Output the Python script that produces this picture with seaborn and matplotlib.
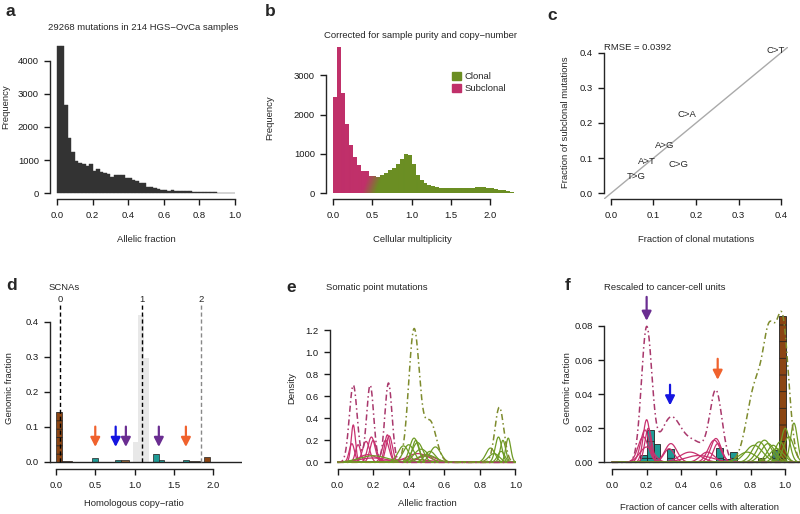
import numpy as np
import pandas as pd
import seaborn as sns
import matplotlib.pyplot as plt
from matplotlib.patches import Patch, PathPatch
from matplotlib.path import Path
from matplotlib.colors import to_rgb

# ---------------- data ----------------
# a: allelic fraction histogram, bins of 0.02 on [0, 1]
af_bin_start = [round(0.02 * i, 2) for i in range(50)]
af_counts = [4435, 4435, 2667, 1657, 1253, 980, 919, 879, 828, 879,
             667, 717, 646, 616, 566, 495, 545, 545, 545, 455,
             455, 394, 374, 313, 313, 192, 172, 141, 121, 101,
             91, 71, 81, 71, 61, 61, 50, 50, 40, 40,
             30, 30, 20, 20, 20, 10, 10, 10, 5, 3]

# b: cellular multiplicity histogram, bins of 0.05 on [0, 2.3]
mult_bin_start = [round(0.05 * i, 2) for i in range(46)]
mult_counts = [2450, 3720, 2560, 1770, 1220, 920, 710, 570, 570, 450,
               430, 410, 460, 520, 590, 640, 750, 870, 1000, 975,
               740, 460, 330, 260, 220, 185, 160, 140, 125, 140,
               140, 140, 135, 130, 140, 140, 150, 160, 145, 140,
               120, 100, 85, 70, 50, 20]

# c: mutation spectra, clonal vs subclonal
mut_types = ['C>T', 'C>A', 'A>G', 'A>T', 'C>G', 'T>G']
clonal_frac = [0.386, 0.178, 0.127, 0.085, 0.159, 0.059]
subclonal_frac = [0.407, 0.223, 0.137, 0.092, 0.083, 0.049]

# d: SCNA copy-ratio histogram
d_grey_left = [0.985, 1.05, 1.115]
d_grey_width = [0.065, 0.065, 0.065]
d_grey_height = [0.055, 0.42, 0.297]
d_bar_left = [0.0, 0.07, 0.455, 0.75, 0.83, 1.23, 1.31, 1.62, 1.69, 1.89]
d_bar_width = [0.07, 0.13, 0.075, 0.08, 0.1, 0.08, 0.06, 0.07, 0.15, 0.07]
d_bar_height = [0.143, 0.003, 0.01, 0.004, 0.005, 0.021, 0.006, 0.006, 0.002, 0.012]
d_bar_kind = ['clonal', 'clonal', 'sub', 'sub', 'mid', 'sub', 'sub', 'sub', 'mid', 'clonal']
d_arrow_x = [0.5, 0.76, 0.89, 1.31, 1.655]
d_arrow_kind = ['orange', 'blue', 'purple', 'purple', 'orange']
d_top_pos = [0.05, 1.094, 1.85]
d_top_labels = ['0', '1', '2']

# e: allelic-fraction densities (peak centre, width, height per curve)
e_sub_center = [0.088, 0.08, 0.115, 0.19, 0.16, 0.2, 0.28, 0.29, 0.27, 0.17, 0.2, 0.45, 0.4, 0.5]
e_sub_sd = [0.012, 0.015, 0.015, 0.02, 0.02, 0.018, 0.016, 0.018, 0.02, 0.05, 0.08, 0.06, 0.1, 0.05]
e_sub_height = [0.34, 0.17, 0.16, 0.23, 0.19, 0.2, 0.25, 0.24, 0.2, 0.07, 0.04, 0.08, 0.03, 0.06]
e_cl_center = [0.43, 0.44, 0.40, 0.37, 0.45, 0.47, 0.55, 0.52, 0.5, 0.2,
               0.86, 0.905, 0.93, 0.96, 0.92, 0.88]
e_cl_sd = [0.025, 0.02, 0.03, 0.03, 0.03, 0.04, 0.03, 0.03, 0.05, 0.08,
           0.025, 0.018, 0.015, 0.014, 0.02, 0.03]
e_cl_height = [0.22, 0.2, 0.16, 0.15, 0.18, 0.12, 0.14, 0.10, 0.07, 0.06,
               0.13, 0.23, 0.20, 0.22, 0.1, 0.08]
e_subsum_center = [0.088, 0.183, 0.286]
e_subsum_sd = [0.022, 0.02, 0.02]
e_subsum_height = [0.7, 0.7, 0.72]
e_clsum_center = [0.43, 0.52, 0.91]
e_clsum_sd = [0.03, 0.035, 0.025]
e_clsum_height = [1.2, 0.37, 0.5]

# f: cancer-cell fraction (peak centre, width, height per curve)
f_sub_center = [0.2, 0.19, 0.18, 0.21, 0.2, 0.34, 0.33, 0.45, 0.6, 0.59, 0.61, 0.55, 0.5]
f_sub_sd = [0.02, 0.025, 0.03, 0.02, 0.04, 0.035, 0.03, 0.06, 0.03, 0.035, 0.025, 0.04, 0.08]
f_sub_height = [0.025, 0.019, 0.015, 0.02, 0.009, 0.011, 0.008, 0.006, 0.014, 0.013, 0.011, 0.006, 0.004]
f_cl_center = [0.85, 0.88, 0.9, 0.82, 0.93, 0.78, 0.97, 1.0, 1.05, 1.02, 0.95]
f_cl_sd = [0.04, 0.04, 0.04, 0.05, 0.035, 0.05, 0.03, 0.025, 0.02, 0.03, 0.04]
f_cl_height = [0.012, 0.013, 0.011, 0.01, 0.01, 0.006, 0.012, 0.02, 0.023, 0.015, 0.008]
f_subsum_center = [0.2, 0.34, 0.48, 0.6]
f_subsum_sd = [0.03, 0.06, 0.06, 0.035]
f_subsum_height = [0.078, 0.026, 0.011, 0.041]
f_clsum_center = [0.83, 0.91, 0.985]
f_clsum_sd = [0.05, 0.035, 0.035]
f_clsum_height = [0.045, 0.062, 0.08]
f_bar_left = [0.16, 0.20, 0.24, 0.32, 0.48, 0.60, 0.64, 0.68, 0.84, 0.925, 0.965]
f_bar_height = [0.0045, 0.019, 0.0107, 0.008, 0.001, 0.0084, 0.002, 0.006, 0.0027, 0.007, 0.086]
f_bar_kind = ['sub', 'sub', 'sub', 'sub', 'sub', 'sub', 'sub', 'sub', 'mid', 'mixed', 'clonal']
f_arrow_x = [0.2, 0.335, 0.61]
f_arrow_top = [0.097, 0.0455, 0.0607]
f_arrow_tip = [0.083, 0.0334, 0.0484]
f_arrow_kind = ['purple', 'blue', 'orange']

# ---------------- style ----------------
sns.set_style('ticks')
plt.rcParams['font.family'] = ['Liberation Sans', 'DejaVu Sans']
plt.rcParams['hatch.linewidth'] = 0.6
plt.rcParams['axes.linewidth'] = 1.0

FS = 6.8
PINK = '#C0306A'
GREEN = '#6B8E23'
PINK_LINE = '#C8316F'
GREEN_LINE = '#6E9B25'
PINK_DASH = '#A9386C'
OLIVE_DASH = '#7E8B2D'
DASHDOT = (0, (4, 2, 1, 2))
arrow_colors = {'orange': '#F0622D', 'blue': '#1515E0', 'purple': '#6A2D91'}
bar_colors = {'clonal': '#8B4513', 'sub': '#1E9A95', 'mid': '#9C6A3A', 'mixed': '#3F7F6E'}

W, H = 800, 514
fig = plt.figure(figsize=(W / 100, H / 100), dpi=100)


def px_axes(left, top, right, bottom):
    return fig.add_axes([left / W, 1 - bottom / H, (right - left) / W, (bottom - top) / H])


def ftext(x, y, s, **kw):
    kw.setdefault('fontsize', FS)
    fig.text(x / W, 1 - y / H, s, **kw)


def letter(x, y, s):
    fig.text(x / W, 1 - y / H, s, fontsize=12.5, fontweight='bold', va='center')


def r_axes(ax, xticks, yticks, xfmt, yfmt):
    sns.despine(ax=ax)
    ax.set_xticks(xticks)
    ax.set_yticks(yticks)
    ax.set_xticklabels([xfmt.format(v) for v in xticks])
    ax.set_yticklabels([yfmt.format(v) for v in yticks])
    ax.spines['bottom'].set_bounds(xticks[0], xticks[-1])
    ax.spines['left'].set_bounds(yticks[0], yticks[-1])
    ax.tick_params(length=4.5, width=1, labelsize=FS, colors='#1a1a1a')
    ax.tick_params(axis='x', pad=4)
    ax.tick_params(axis='y', pad=3.5)


def px_labels(ax, xl, xpos, yl, ypos):
    ax.set_xlabel(xl, fontsize=FS)
    ax.set_ylabel(yl, fontsize=FS)
    ax.xaxis.set_label_coords(xpos[0] / W, 1 - xpos[1] / H, transform=fig.transFigure)
    ax.yaxis.set_label_coords(ypos[0] / W, 1 - ypos[1] / H, transform=fig.transFigure)
    ax.xaxis.label.set_va('center')
    ax.yaxis.label.set_va('center')


def bump_frame(xgrid, centers, sds, heights):
    parts = []
    for i, (c, s, h) in enumerate(zip(centers, sds, heights)):
        y = h * np.exp(-0.5 * ((xgrid - c) / s) ** 2)
        parts.append(pd.DataFrame({'x': xgrid, 'y': y, 'curve': i}))
    return pd.concat(parts, ignore_index=True)


def mixture_frame(xgrid, centers, sds, heights):
    y = np.zeros_like(xgrid)
    for c, s, h in zip(centers, sds, heights):
        y = y + h * np.exp(-0.5 * ((xgrid - c) / s) ** 2)
    return pd.DataFrame({'x': xgrid, 'y': y})


def down_arrow(ax, x, y0, y1, color):
    ax.annotate('', xy=(x, y1), xytext=(x, y0), annotation_clip=False,
                arrowprops=dict(arrowstyle='-|>,head_length=0.55,head_width=0.28',
                                color=color, lw=1.6, shrinkA=0, shrinkB=0))


# ---------------- a ----------------
ax = px_axes(50, 40, 242, 199)
df_af = pd.DataFrame({'af': np.array(af_bin_start) + 0.01, 'n': af_counts})
sns.histplot(data=df_af, x='af', weights='n', binwidth=0.02, binrange=(0, 1), color='#333333',
             alpha=1, edgecolor='#333333', linewidth=0.3, ax=ax)
ax.set_xlim(-0.04, 1.04)
ax.set_ylim(-178, 4628)
r_axes(ax, [0, 0.2, 0.4, 0.6, 0.8, 1.0], [0, 1000, 2000, 3000, 4000], '{:.1f}', '{:.0f}')
px_labels(ax, 'Allelic fraction', (146, 239), 'Frequency', (6, 107))
ftext(143, 27, '29268 mutations in 214 HGS\u2212OvCa samples', ha='center', va='center')
letter(5, 12, 'a')

# ---------------- b ----------------
ax = px_axes(326, 42, 521, 199)
df_mult = pd.DataFrame({'m': np.array(mult_bin_start) + 0.025, 'n': mult_counts})
sns.histplot(data=df_mult, x='m', weights='n', binwidth=0.05, binrange=(0, 2.3), color=PINK,
             alpha=1, linewidth=0, ax=ax)
bars = list(ax.patches)
paths = [p.get_path().transformed(p.get_patch_transform()) for p in bars]
clip = PathPatch(Path.make_compound_path(*paths), transform=ax.transData,
                 facecolor='none', edgecolor='none')
ax.add_patch(clip)
gx, gy = np.meshgrid(np.linspace(0, 2.3, 300), np.linspace(0, 3800, 300))
t = np.clip((gx - 0.40) / 0.18 - gy / 1000 + 0.2, 0, 1)[..., None]
grad = np.array(to_rgb(PINK)) * (1 - t) + np.array(to_rgb(GREEN)) * t
im = ax.imshow(grad, extent=(0, 2.3, 0, 3800), origin='lower', aspect='auto',
               interpolation='bilinear', zorder=2)
im.set_clip_path(clip)
ax.set_xlim(-0.092, 2.392)
ax.set_ylim(-148, 3848)
r_axes(ax, [0, 0.5, 1.0, 1.5, 2.0], [0, 1000, 2000, 3000], '{:.1f}', '{:.0f}')
px_labels(ax, 'Cellular multiplicity', (412, 239), 'Frequency', (270, 118))
ax.legend(handles=[Patch(color=GREEN, label='Clonal'), Patch(color=PINK, label='Subclonal')],
          loc='upper left', bbox_to_anchor=(447 / W, 1 - 67 / H), bbox_transform=fig.transFigure,
          frameon=False, fontsize=FS, handlelength=1.0, handleheight=1.0,
          handletextpad=0.35, labelspacing=0.25, borderpad=0)
ftext(420, 35, 'Corrected for sample purity and copy\u2212number', ha='center', va='center')
letter(265, 12, 'b')

# ---------------- c ----------------
ax = px_axes(604, 47, 788, 199)
ax.set_xlim(-0.016, 0.416)
ax.set_ylim(-0.016, 0.416)
ax.axline((0, 0), slope=1, color='#aaaaaa', lw=1)
for name, xv, yv in zip(mut_types, clonal_frac, subclonal_frac):
    ax.text(xv, yv, name, fontsize=FS, ha='center', va='center')
r_axes(ax, [0, 0.1, 0.2, 0.3, 0.4], [0, 0.1, 0.2, 0.3, 0.4], '{:.1f}', '{:.1f}')
px_labels(ax, 'Fraction of clonal mutations', (696, 239),
          'Fraction of subclonal mutations', (565, 122))
ftext(604, 47, 'RMSE = 0.0392', va='center')
letter(547, 15, 'c')

# ---------------- d ----------------
ax = px_axes(50, 304, 242, 469)
ax.set_xlim(-0.077, 2.37)
ax.set_ylim(-0.021, 0.45)
ax.bar(d_grey_left, d_grey_height, width=d_grey_width, align='edge', color='#e8e8e8', lw=0)
ax.bar(d_bar_left, d_bar_height, width=d_bar_width, align='edge',
       color=[bar_colors[k] for k in d_bar_kind], edgecolor='#222222', lw=0.5, hatch='--')
ax.axhline(0, color='#222222', lw=1)
for xv, lab, col in zip(d_top_pos, d_top_labels, ['black', 'black', '#888888']):
    ax.vlines(xv, 0, 0.448, colors=col, linestyles=(0, (3, 2)), lw=1, clip_on=False)
    ax.text(xv, 0.462, lab, fontsize=FS, ha='center', va='center', clip_on=False)
for xv, k in zip(d_arrow_x, d_arrow_kind):
    down_arrow(ax, xv, 0.1, 0.042, arrow_colors[k])
r_axes(ax, [0, 0.5, 1.0, 1.5, 2.0], [0, 0.1, 0.2, 0.3, 0.4], '{:.1f}', '{:.1f}')
px_labels(ax, 'Homologous copy\u2212ratio', (134, 503), 'Genomic fraction', (10, 388))
ftext(49, 287, 'SCNAs', va='center')
letter(6, 286, 'd')

# ---------------- e ----------------
ax = px_axes(330, 319, 523, 469)
xe = np.linspace(0, 1, 500)
sns.lineplot(data=bump_frame(xe, e_sub_center, e_sub_sd, e_sub_height), x='x', y='y',
             units='curve', estimator=None, color=PINK_LINE, lw=0.9, ax=ax, legend=False)
sns.lineplot(data=bump_frame(xe, e_cl_center, e_cl_sd, e_cl_height), x='x', y='y',
             units='curve', estimator=None, color=GREEN_LINE, lw=0.9, ax=ax, legend=False)
sns.lineplot(data=mixture_frame(xe, e_subsum_center, e_subsum_sd, e_subsum_height), x='x', y='y',
             color=PINK_DASH, lw=1.1, linestyle=DASHDOT, ax=ax, legend=False)
sns.lineplot(data=mixture_frame(xe, e_clsum_center, e_clsum_sd, e_clsum_height), x='x', y='y',
             color=OLIVE_DASH, lw=1.1, linestyle=DASHDOT, ax=ax, legend=False)
ax.set_xlim(-0.043, 1.043)
ax.set_ylim(-0.06, 1.3)
r_axes(ax, [0, 0.2, 0.4, 0.6, 0.8, 1.0], [0, 0.2, 0.4, 0.6, 0.8, 1.0, 1.2], '{:.1f}', '{:.1f}')
px_labels(ax, 'Allelic fraction', (427, 503), 'Density', (292, 388))
ftext(326, 287, 'Somatic point mutations', va='center')
letter(286, 287, 'e')

# ---------------- f ----------------
ax = px_axes(604, 309, 800, 469)
xf = np.linspace(0, 1.1, 550)
sns.lineplot(data=bump_frame(xf, f_sub_center, f_sub_sd, f_sub_height), x='x', y='y',
             units='curve', estimator=None, color=PINK_LINE, lw=0.9, ax=ax, legend=False)
sns.lineplot(data=bump_frame(xf, f_cl_center, f_cl_sd, f_cl_height), x='x', y='y',
             units='curve', estimator=None, color=GREEN_LINE, lw=0.9, ax=ax, legend=False)
sns.lineplot(data=mixture_frame(xf, f_subsum_center, f_subsum_sd, f_subsum_height), x='x', y='y',
             color=PINK_DASH, lw=1.1, linestyle=DASHDOT, ax=ax, legend=False)
sns.lineplot(data=mixture_frame(xf, f_clsum_center, f_clsum_sd, f_clsum_height), x='x', y='y',
             color=OLIVE_DASH, lw=1.1, linestyle=DASHDOT, ax=ax, legend=False)
ax.bar(f_bar_left, f_bar_height, width=0.04, align='edge',
       color=[bar_colors[k] for k in f_bar_kind], edgecolor='#222222', lw=0.6, hatch='-')
ax.axhline(0, color='#333333', lw=1)
for xv, y0, y1, k in zip(f_arrow_x, f_arrow_top, f_arrow_tip, f_arrow_kind):
    down_arrow(ax, xv, y0, y1, arrow_colors[k])
ax.set_xlim(-0.046, 1.085)
ax.set_ylim(-0.0039, 0.0899)
r_axes(ax, [0, 0.2, 0.4, 0.6, 0.8, 1.0], [0, 0.02, 0.04, 0.06, 0.08], '{:.1f}', '{:.2f}')
px_labels(ax, 'Fraction of cancer cells with alteration', (700, 508),
          'Genomic fraction', (567, 388))
ftext(604, 287, 'Rescaled to cancer-cell units', va='center')
letter(565, 286, 'f')

fig.savefig('out.png', dpi=100)
